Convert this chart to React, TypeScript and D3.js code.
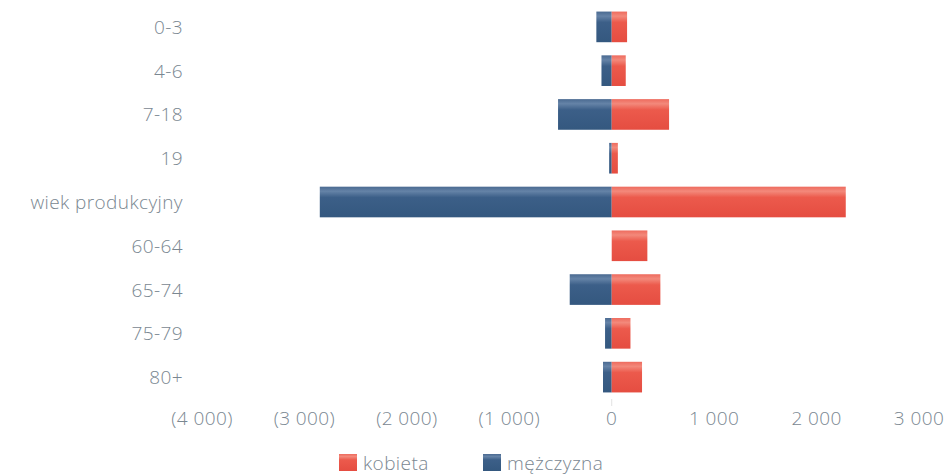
import React from "react";
import * as d3 from "d3";

const categories = ["0-3", "4-6", "7-18", "19", "wiek produkcyjny", "60-64", "65-74", "75-79", "80+"];
const kobieta = [150, 137, 560, 60, 2285, 348, 475, 183, 296];
const mezczyzna = [150, 100, 524, 25, 2850, 0, 410, 65, 85];
const tickValues = [-4000, -3000, -2000, -1000, 0, 1000, 2000, 3000];
const seriesNames = ["kobieta", "mężczyzna"];

const W = 949;
const H = 476;
const FONT = "'Open Sans', 'Noto Sans', sans-serif";
const TEXT = "#7a8791";
const FS = 19;
const LS = 0.4;

const locale = d3.formatLocale({ decimal: ",", thousands: "\u00a0", grouping: [3], currency: ["", ""] });
const fmt = locale.format(",.0f");
const tickFmt = (v: number) => (v < 0 ? `(${fmt(-v)})` : fmt(v));

export default function App() {
  const x = d3.scaleLinear().domain([-4000, 3000]).range([202, 919]);
  const y = d3.scaleBand<string>().domain(categories).range([5, 399]).paddingInner(0.3).paddingOuter(0.15);
  const bw = y.bandwidth();

  const textProps = {
    fontFamily: FONT,
    fontSize: FS,
    fill: TEXT,
    letterSpacing: LS,
    fontWeight: 300,
  };

  return (
    <svg width={W} height={H} style={{ position: "absolute", left: 0, top: 0, background: "#fff" }}>
      <defs>
        <linearGradient id="gBlue" x1="0" y1="0" x2="0" y2="1">
          <stop offset="0" stopColor="#4a6a91" />
          <stop offset="0.15" stopColor="#6583a7" />
          <stop offset="0.35" stopColor="#3c5f88" />
          <stop offset="1" stopColor="#34587f" />
        </linearGradient>
        <linearGradient id="gRed" x1="0" y1="0" x2="0" y2="1">
          <stop offset="0" stopColor="#ee6b5e" />
          <stop offset="0.15" stopColor="#f3897b" />
          <stop offset="0.35" stopColor="#ec5a4c" />
          <stop offset="1" stopColor="#e54d41" />
        </linearGradient>
      </defs>
      {categories.map((c, i) => {
        const y0 = y(c)!;
        return (
          <g key={c}>
            {mezczyzna[i] > 0 && (
              <rect x={x(-mezczyzna[i])} y={y0} width={x(0) - x(-mezczyzna[i])} height={bw} fill="url(#gBlue)" />
            )}
            {kobieta[i] > 0 && (
              <rect x={x(0)} y={y0} width={x(kobieta[i]) - x(0)} height={bw} fill="url(#gRed)" />
            )}
            <text x={183} y={y0 + bw / 2} textAnchor="end" dominantBaseline="central" {...textProps}>
              {c}
            </text>
          </g>
        );
      })}
      <line x1={x(0)} x2={x(0)} y1={399} y2={406} stroke="#e2e2e2" />
      {tickValues.map((t) => (
        <text key={t} x={x(t)} y={418} textAnchor="middle" dominantBaseline="central" {...textProps}>
          {tickFmt(t)}
        </text>
      ))}
      {seriesNames.map((s, i) => {
        const lx = [339, 483][i];
        return (
          <g key={s}>
            <rect x={lx} y={454} width={18} height={17} fill={i === 0 ? "url(#gRed)" : "url(#gBlue)"} />
            <text x={lx + 24} y={463} dominantBaseline="central" {...textProps}>
              {s}
            </text>
          </g>
        );
      })}
    </svg>
  );
}
